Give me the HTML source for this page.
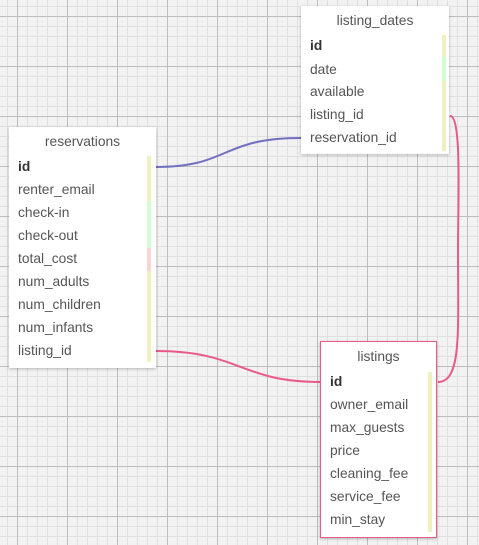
<!DOCTYPE html>
<html><head><style>
body{margin:0;width:479px;height:545px;overflow:hidden;position:relative;font-family:"Liberation Sans","DejaVu Sans",sans-serif;
background-color:#f2f2f2;
background-image:linear-gradient(#bdbdbd 1px,transparent 1px),linear-gradient(90deg,#bdbdbd 1px,transparent 1px),linear-gradient(#e0e0e0 1px,transparent 1px),linear-gradient(90deg,#e0e0e0 1px,transparent 1px);
background-size:50px 50px,50px 50px,10px 10px,10px 10px;
background-position:0 16px,17px 0,0 6px,7px 0;}
.t{position:absolute;background:#fff;box-shadow:0 1px 3px rgba(0,0,0,.25);color:#555;font-size:13.8px}
.t .h{position:absolute;left:0;right:0;text-align:center;top:7px;}
.t .r{position:absolute;left:9px;}
.t .b{font-weight:bold;color:#333}
.bar{position:absolute;width:4px}
svg{position:absolute;left:0;top:0}
</style></head><body>
<svg width="479" height="545">
<path d="M156 167 C230 167,220 138,301 138" stroke="#7070c0" stroke-width="2" fill="none"/>
<path d="M156 351 C240 351,240 382,320 382" stroke="#e85a8a" stroke-width="2" fill="none"/>
<path d="M450 116 C462 116,458 200,458 250 C458 330,462 382,438 382" stroke="#e85a8a" stroke-width="2" fill="none"/>
</svg>
<div class="t" style="left:301px;top:6px;width:148px;height:148px">
<div class="h">listing_dates</div>
<div class="r b" style="top:32px">id</div>
<div class="r" style="top:56px">date</div>
<div class="r" style="top:78px">available</div>
<div class="r" style="top:101px">listing_id</div>
<div class="r" style="top:124px">reservation_id</div>
<div class="bar" style="left:141px;top:29px;height:22px;background:#f0f0c0"></div>
<div class="bar" style="left:141px;top:51px;height:24px;background:#d4fcd4"></div>
<div class="bar" style="left:141px;top:75px;height:70px;background:#f0f0c0"></div>
</div>
<div class="t" style="left:9px;top:127px;width:147px;height:241px">
<div class="h">reservations</div>
<div class="r b" style="top:32px">id</div>
<div class="r" style="top:55px">renter_email</div>
<div class="r" style="top:78px">check-in</div>
<div class="r" style="top:101px">check-out</div>
<div class="r" style="top:124px">total_cost</div>
<div class="r" style="top:147px">num_adults</div>
<div class="r" style="top:170px">num_children</div>
<div class="r" style="top:193px">num_infants</div>
<div class="r" style="top:216px">listing_id</div>
<div class="bar" style="left:138px;top:29px;height:46px;background:#f0f0c0"></div>
<div class="bar" style="left:138px;top:75px;height:46px;background:#d4fcd4"></div>
<div class="bar" style="left:138px;top:121px;height:23px;background:#fcd4d4"></div>
<div class="bar" style="left:138px;top:144px;height:91px;background:#f0f0c0"></div>
</div>
<div class="t" style="left:320px;top:341px;width:115px;height:195px;border:1px solid #e85a8a">
<div class="h">listings</div>
<div class="r b" style="top:32px">id</div>
<div class="r" style="top:55px">owner_email</div>
<div class="r" style="top:78px">max_guests</div>
<div class="r" style="top:101px">price</div>
<div class="r" style="top:124px">cleaning_fee</div>
<div class="r" style="top:147px">service_fee</div>
<div class="r" style="top:170px">min_stay</div>
<div class="bar" style="left:107px;top:30px;height:160px;background:#f0f0c0"></div>
</div>
</body></html>
